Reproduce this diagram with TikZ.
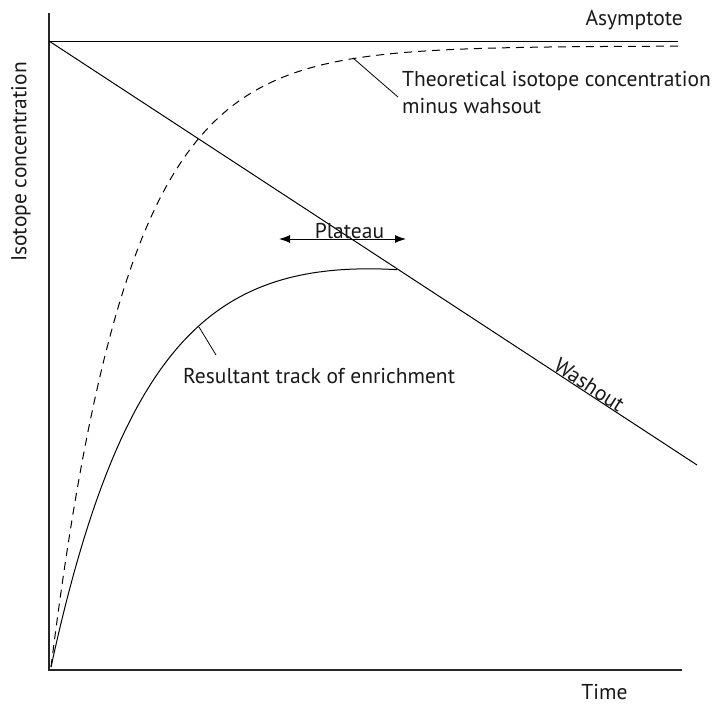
\documentclass[tikz,border=0pt]{standalone}
\usepackage{fontspec}
\setmainfont{PT Sans}
\usetikzlibrary{arrows.meta}
\tikzset{
  axisline/.style={line width=1.3pt, draw=black!85},
  curveline/.style={line width=1pt, draw=black},
  dashcurve/.style={line width=1pt, draw=black, dash pattern=on 8pt off 6pt},
  leader/.style={line width=0.8pt, draw=black},
  lbl/.style={font=\fontsize{21.5}{27}\selectfont, inner sep=0pt, text=black!90}
}
\begin{document}
\begin{tikzpicture}[x=1pt,y=-1pt]
\useasboundingbox (0,0) rectangle (712,704);
% axes
\coordinate (ytop) at (49,13);
\coordinate (orig) at (49,670);
\coordinate (xend) at (682,670);
\draw[axisline] (ytop) -- (orig) -- (xend);
% asymptote
\coordinate (asL) at (49,41);
\coordinate (asR) at (678,41);
\draw[curveline] (asL) -- (asR);
% washout
\coordinate (wsE) at (697,465);
\draw[curveline] (asL) -- (wsE);
% theoretical dashed curve
\draw[dashcurve] plot[domain=0:627, samples=200] ({51+\x}, {46+621*exp(-0.0129*\x)});
% resultant curve
\draw[curveline] plot[domain=0:346, samples=150] ({51+\x}, {667-440*(1-exp(-0.0105*\x))+0.000254*\x*\x});
% labels
\node[lbl, anchor=base east] (asym) at (683,25) {Asymptote};
\node[lbl, anchor=base west, align=left] (theo) at (402,113) {Theoretical isotope concentration\\minus wahsout};
\coordinate (theoP) at (353,58);
\draw[leader] (theoP) -- (398,97);
\node[lbl, anchor=base] (plat) at (349.5,238) {Plateau};
\coordinate (plL) at (279,239);
\coordinate (plR) at (406,239);
\draw[line width=1pt, {Latex[length=11pt,width=8pt]}-{Latex[length=11pt,width=8pt]}] (plL) -- (plR);
\node[lbl, anchor=base west] (res) at (183,383) {Resultant track of enrichment};
\coordinate (resP) at (199,327);
\coordinate (resQ) at (216,355);
\draw[leader] (resP) -- (resQ);
\node[lbl, anchor=south, rotate=-33.2] (wash) at (585,391.6) {Washout};
\node[lbl, anchor=base] (time) at (604.5,699) {Time};
\node[lbl, rotate=90] (ylab) at (21,162) {Isotope concentration};
\end{tikzpicture}
\end{document}
